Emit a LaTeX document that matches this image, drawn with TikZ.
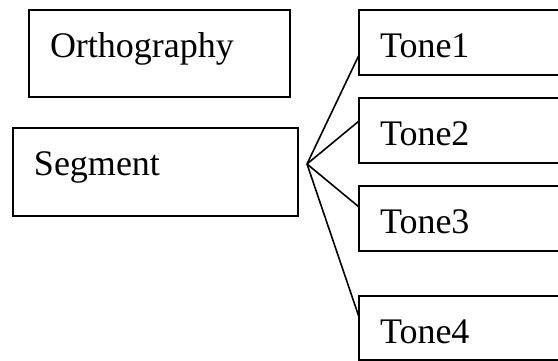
\documentclass[tikz,border=0pt]{standalone}
\usepackage{fontspec}
\setmainfont{Liberation Serif}

\begin{document}
\begin{tikzpicture}[
    % 坐标单位:1pt 对应参考图的 1 个像素
    x=1pt, y=1pt,
    % 方框样式:左对齐文字,基线位置由 text height 固定
    mybox/.style={
        rectangle, % 节点形状:矩形
        draw=black, % 边框颜色
        line width=2pt, % 边框宽度
        anchor=north west, % 以左上角定位
        outer sep=0pt,
        inner xsep=21pt, % 文字左侧留白
        inner ysep=0pt,
        text height=47.5pt, % 顶边到基线的距离
        align=left,
        font=\fontsize{36}{40}\selectfont
        },
    % 连线样式
    myline/.style={line width=1.6pt}
    ]
    % 画布范围(右侧方框被裁切)
    \clip (0,0) rectangle (558,-361);
    % ========== 第一步:左侧两个方框 ==========
    \node [mybox, text width=219pt, text depth=39.5pt] (ortho) at (29,-10) {Orthography};
    \node [mybox, text width=243pt, text depth=40.5pt] (seg) at (13,-128) {Segment};
    % ========== 第二步:右侧 Tone 方框 ==========
    \foreach \name/\txt/\y/\d in {t1/Tone1/10/18, t2/Tone2/98/17.5, t3/Tone3/186/17.5, t4/Tone4/296/16.5} {
        \node [mybox, text width=179pt, text depth=\d pt] (\name) at (359,-\y) {\txt};
    }
    % ========== 第三步:分叉连线 ==========
    \coordinate (fork) at ([xshift=9pt, yshift=8pt]seg.east); % 分叉点
    \foreach \name/\dy in {t1/-12.25, t2/9.5, t3/11.5, t4/11} {
        \draw [myline] (fork) -- ([yshift=\dy]\name.west);
    }
\end{tikzpicture}
\end{document}
